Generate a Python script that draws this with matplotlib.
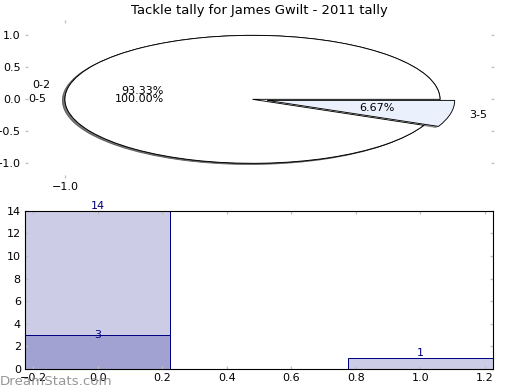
import matplotlib
matplotlib.use('Agg')
import matplotlib.pyplot as plt
from matplotlib.ticker import FuncFormatter

title = "Tackle tally for James Gwilt - 2011 tally"
pie_labels = ["0-2", "3-5"]
pie_values = [14, 1]
pie2_labels = ["0-5"]
pie2_values = [3]
bar_x = [0, 1]
bar_values = [14, 1]
bar2_x = [0]
bar2_values = [3]

W, H = 520, 390
fig = plt.figure(figsize=(6.5, 4.875), dpi=80)

FS = 10
TICKC = '#c0c0c0'
NAVY = '#000080'

fmt = FuncFormatter(lambda v, p: ('%.1f' % v).replace('-', '\u2212'))

# --- top: pie charts ---
ax1 = fig.add_axes([25 / W, 1 - 178 / H, 469 / W, 158 / H])
wp = dict(edgecolor='black', linewidth=0.8)
shad = dict(ox=-0.012, oy=-0.016, shade=0.7)
ax1.pie(pie2_values, labels=pie2_labels, autopct='%.2f%%', colors=['white'],
        shadow=shad, wedgeprops=wp, textprops=dict(fontsize=FS))
ax1.pie(pie_values, labels=pie_labels, autopct='%.2f%%', colors=['white', '#EBF1FC'],
        explode=[0, 0.08], shadow=shad, wedgeprops=wp, textprops=dict(fontsize=FS))
ax1.set_aspect('auto')
ax1.set_xlim(-1.213, 1.288)
ax1.set_ylim(-1.23, 1.24)
ax1.set_frame_on(False)
ax1.set_yticks([-1.0, -0.5, 0.0, 0.5, 1.0])
ax1.set_xticks([-1.0])
ax1.xaxis.set_major_formatter(fmt)
ax1.yaxis.set_major_formatter(fmt)
ax1.tick_params(direction='in', length=3, width=1.2, color=TICKC, labelsize=FS,
                left=True, right=True, top=True, bottom=True, pad=4)
ax1.set_title(title, fontsize=11.8, pad=5)

# --- bottom: bars ---
ax2 = fig.add_axes([25.3 / W, 1 - 369 / H, 467.7 / W, 158.3 / H])
ax2.bar(bar_x, bar_values, width=0.45, color='#CCCCE6', edgecolor=NAVY, linewidth=0.9)
ax2.bar(bar2_x, bar2_values, width=0.45, color='#A2A2D2', edgecolor=NAVY, linewidth=0.9)
ax2.margins(0)
for x, v in zip(bar_x, bar_values):
    ax2.text(x, v, str(v), ha='center', va='bottom', color=NAVY, fontsize=FS)
for x, v in zip(bar2_x, bar2_values):
    ax2.text(x, v, str(v), ha='center', va='center', color=NAVY, fontsize=FS)
ax2.tick_params(direction='in', length=3, width=1.2, color=TICKC, labelsize=FS,
                left=True, right=True, top=True, bottom=True, pad=4)
for s in ax2.spines.values():
    s.set_linewidth(1.0)

fig.text(0, 5 / H, 'DreamStats.com', color='#8c8c8c', fontsize=12, alpha=0.9)

fig.savefig('out.png', dpi=80)
